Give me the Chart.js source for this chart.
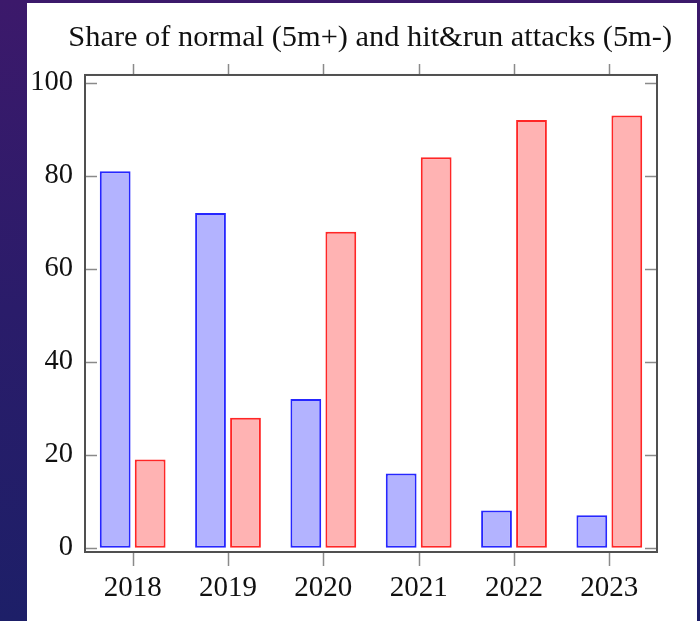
<!DOCTYPE html>
<html>
<head>
<meta charset="utf-8">
<script src="https://cdn.jsdelivr.net/npm/chart.js@4/dist/chart.umd.min.js"></script>
<style>
  html, body { margin: 0; padding: 0; }
  body {
    width: 700px; height: 621px; overflow: hidden; position: relative;
    background: linear-gradient(180deg, #3c196b 0%, #2a1c6a 50%, #1d1f68 100%);
  }
  #box { position: absolute; left: 27px; top: 3px; width: 670px; height: 618px; background: #fff; }
</style>
</head>
<body>
<div id="box"><canvas id="chart" width="670" height="618"></canvas></div>
<script>
const years = ['2018', '2019', '2020', '2021', '2022', '2023'];
const normalShare = [81, 72, 32, 16, 8, 7];     // 5m+
const hitRunShare = [19, 28, 68, 84, 92, 93];   // 5m-
const yTicks = [0, 20, 40, 60, 80, 100];

const serif = '"Liberation Serif", "Times New Roman", serif';

// frame around the plot, inward y ticks on both sides, outward x ticks top and bottom
const framePlugin = {
  id: 'frame',
  afterDraw(chart) {
    const { ctx, chartArea: a, scales: { x, y } } = chart;
    ctx.save();
    ctx.strokeStyle = '#8a8a8a';
    ctx.lineWidth = 1.5;
    ctx.beginPath();
    yTicks.forEach(v => {
      const py = Math.round(y.getPixelForValue(v)) + 0.5;
      ctx.moveTo(a.left, py); ctx.lineTo(a.left + 12, py);
      ctx.moveTo(a.right, py); ctx.lineTo(a.right - 12, py);
    });
    years.forEach((_, i) => {
      const px = Math.round(x.getPixelForTick(i)) + 0.5;
      ctx.moveTo(px, a.bottom); ctx.lineTo(px, a.bottom + 14);
      ctx.moveTo(px, a.top); ctx.lineTo(px, a.top - 11);
    });
    ctx.stroke();
    ctx.strokeStyle = '#505050';
    ctx.lineWidth = 2;
    ctx.strokeRect(a.left, a.top, a.right - a.left, a.bottom - a.top);
    ctx.restore();
  }
};

new Chart(document.getElementById('chart'), {
  type: 'bar',
  data: {
    labels: years,
    datasets: [
      {
        label: 'normal (5m+)',
        data: normalShare,
        backgroundColor: '#b3b3ff',
        borderColor: '#2626ff',
        borderWidth: 2,
        borderSkipped: false,
        categoryPercentage: 0.734,
        barPercentage: 0.88
      },
      {
        label: 'hit&run (5m-)',
        data: hitRunShare,
        backgroundColor: '#ffb3b3',
        borderColor: '#ff2626',
        borderWidth: 2,
        borderSkipped: false,
        categoryPercentage: 0.734,
        barPercentage: 0.88
      }
    ]
  },
  options: {
    responsive: false,
    animation: false,
    layout: { padding: { top: 0, right: 25, bottom: 0, left: 0 } },
    plugins: {
      legend: { display: false },
      tooltip: { enabled: false },
      title: {
        display: true,
        align: 'end',
        text: 'Share of normal (5m+) and hit&run attacks (5m-)',
        color: '#111',
        font: { family: serif, size: 30.4, weight: 'normal', lineHeight: 1.2 },
        padding: { top: 17, bottom: 18.5 }
      }
    },
    scales: {
      x: {
        grid: { display: false, drawTicks: false },
        border: { display: false },
        ticks: { color: '#111', padding: 19, font: { family: serif, size: 29 } },
        afterFit(scale) { scale.height = 69; }
      },
      y: {
        min: -0.9,
        max: 101.7,
        grid: { display: false, drawTicks: false },
        border: { display: false },
        afterBuildTicks(scale) { scale.ticks = yTicks.map(v => ({ value: v })); },
        ticks: { color: '#111', padding: 12, font: { family: serif, size: 28.5 } },
        afterFit(scale) { scale.width = 58; }
      },
      // empty strip on the right so the frame stops short of the title's end
      yRight: {
        position: 'right',
        grid: { display: false, drawTicks: false },
        border: { display: false },
        ticks: { display: false },
        afterFit(scale) { scale.width = 15; }
      }
    }
  },
  plugins: [framePlugin]
});
</script>
</body>
</html>
